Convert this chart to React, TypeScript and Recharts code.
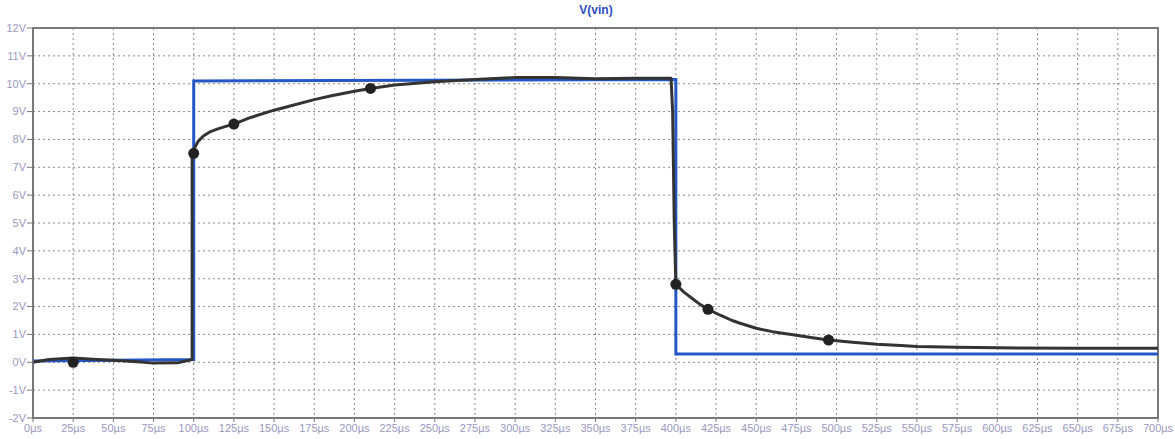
import React from "react";
import {
  ComposedChart,
  Line,
  Scatter,
  XAxis,
  YAxis,
  CartesianGrid,
  ReferenceArea,
} from "recharts";

// Tick values
const xTicks = [0, 25, 50, 75, 100, 125, 150, 175, 200, 225, 250, 275, 300, 325, 350, 375, 400, 425, 450, 475, 500, 525, 550, 575, 600, 625, 650, 675, 700];
const yTicks = [-2, -1, 0, 1, 2, 3, 4, 5, 6, 7, 8, 9, 10, 11, 12];

// Blue square input wave (t in µs, v in V)
const squareT = [0, 100, 100, 400, 400, 700];
const squareV = [0.05, 0.1, 10.1, 10.15, 0.3, 0.3];

// Hand-drawn response curve
const curveT = [0, 10, 25, 40, 50, 65, 75, 90, 99, 99, 101, 103, 106, 110, 115, 120, 125, 135, 150, 160, 175, 185, 200, 210, 225, 250, 275, 300, 325, 350, 375, 397, 398, 399, 400, 405, 410, 415, 420, 428, 435, 440, 450, 460, 475, 485, 495, 510, 525, 540, 550, 575, 600, 650, 700];
const curveV = [0, 0.1, 0.15, 0.1, 0.07, 0.02, -0.03, -0.02, 0.1, 7.4, 7.75, 7.95, 8.12, 8.27, 8.38, 8.47, 8.55, 8.78, 9.05, 9.2, 9.43, 9.56, 9.73, 9.83, 9.95, 10.07, 10.15, 10.22, 10.22, 10.18, 10.2, 10.2, 9.0, 5.0, 2.8, 2.52, 2.3, 2.08, 1.9, 1.68, 1.5, 1.4, 1.22, 1.1, 0.97, 0.88, 0.8, 0.72, 0.65, 0.6, 0.57, 0.54, 0.52, 0.5, 0.5];

// Marked points
const dotT = [25, 100, 125, 210, 400, 420, 495];
const dotV = [0.0, 7.5, 8.55, 9.83, 2.8, 1.9, 0.8];

const squareData = squareT.map((t, i) => ({ t, v: squareV[i] }));
const curveData = curveT.map((t, i) => ({ t, v: curveV[i] }));
const dotData = dotT.map((t, i) => ({ t, v: dotV[i] }));

const labelColor = "#9a98c0";

export default function App() {
  return (
    <div style={{ position: "absolute", left: 0, top: 0, width: 1175, height: 439, background: "#fff", fontFamily: "'Liberation Sans', Arial, sans-serif" }}>
      <div
        style={{
          position: "absolute",
          left: 546,
          width: 100,
          top: 3,
          textAlign: "center",
          color: "#2a4fc0",
          fontWeight: "bold",
          fontSize: 12,
        }}
      >
        V(vin)
      </div>
      <ComposedChart
        width={1175}
        height={439}
        margin={{ top: 28, right: 17, left: 0, bottom: 0 }}
      >
        <CartesianGrid stroke="#8a8a8a" strokeDasharray="2 3" />
        <XAxis
          dataKey="t"
          type="number"
          domain={[0, 700]}
          ticks={xTicks}
          interval={0}
          height={21}
          tickFormatter={(v) => `${v}µs`}
          tick={{ fill: labelColor, fontSize: 11 }}
          stroke="#777"
          tickSize={4}
          allowDuplicatedCategory={false}
        />
        <YAxis
          type="number"
          dataKey="v"
          domain={[-2, 12]}
          ticks={yTicks}
          interval={0}
          width={33}
          tickFormatter={(v) => `${v}V`}
          tick={{ fill: labelColor, fontSize: 11 }}
          stroke="#777"
          tickSize={6}
          tickMargin={1}
        />
        <ReferenceArea x1={0} x2={700} y1={-2} y2={12} fill="none" stroke="#7a7a7a" strokeWidth={2} />
        <Line
          data={squareData}
          dataKey="v"
          type="linear"
          stroke="#2457c5"
          strokeWidth={3}
          dot={false}
          isAnimationActive={false}
        />
        <Line
          data={curveData}
          dataKey="v"
          type="linear"
          stroke="#333"
          strokeWidth={3}
          strokeLinejoin="round"
          dot={false}
          isAnimationActive={false}
        />
        <Scatter
          data={dotData}
          dataKey="v"
          fill="#222"
          shape={(p: any) => <circle cx={p.cx} cy={p.cy} r={5.5} fill="#222" />}
          isAnimationActive={false}
        />
      </ComposedChart>
    </div>
  );
}
